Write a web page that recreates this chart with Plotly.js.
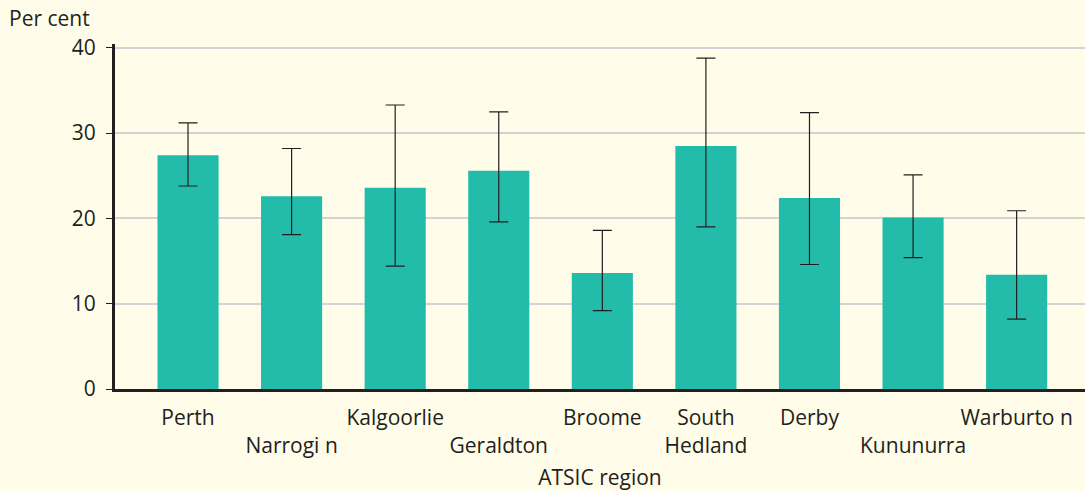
<!DOCTYPE html>
<html>
<head>
<meta charset="utf-8">
<script src="https://cdn.plot.ly/plotly-3.0.1.min.js"></script>
<style>html,body{margin:0;padding:0;background:#FFFCE9;}#chart{width:1085px;height:491px;}</style>
</head>
<body>
<div id="chart"></div>
<script>
const regions = ["Perth", "Narrogi n", "Kalgoorlie", "Geraldton", "Broome", "South Hedland", "Derby", "Kununurra", "Warburto n"];
const tickLabels = ["Perth", "<br>Narrogi n", "Kalgoorlie", "<br>Geraldton", "Broome", "South<br>Hedland", "Derby", "<br>Kununurra", "Warburto n"];
const perCent = [27.4, 22.6, 23.6, 25.6, 13.6, 28.5, 22.4, 20.1, 13.4];
const upperCI = [31.2, 28.2, 33.3, 32.5, 18.6, 38.8, 32.4, 25.1, 20.9];
const lowerCI = [23.8, 18.1, 14.4, 19.6, 9.2, 19.0, 14.6, 15.4, 8.2];

const plus = perCent.map((v, i) => upperCI[i] - v);
const minus = perCent.map((v, i) => v - lowerCI[i]);

const trace = {
  type: 'bar',
  x: regions,
  y: perCent,
  width: 0.59,
  marker: {color: '#23BBA9'},
  error_y: {type: 'data', symmetric: false, array: plus, arrayminus: minus,
            color: '#231F20', thickness: 1.2, width: 9.5},
  hoverinfo: 'x+y'
};

const layout = {
  width: 1085, height: 491,
  paper_bgcolor: '#FFFCE9', plot_bgcolor: '#FFFCE9',
  margin: {l: 115, r: 0, t: 44, b: 102},
  font: {family: '"Open Sans", "DejaVu Sans", sans-serif', size: 21, color: '#231F20'},
  showlegend: false,
  xaxis: {
    type: 'category',
    tickvals: regions, ticktext: tickLabels,
    range: [-0.705, 8.66],
    showline: true, linecolor: '#231F20', linewidth: 3,
    ticks: '', showgrid: false,
    tickangle: 0,
    ticklabelstandoff: 8,
    tickfont: {size: 21},
    title: {text: 'ATSIC region', font: {size: 21}, standoff: 13}
  },
  yaxis: {
    range: [0, 40.45],
    tickvals: [0, 10, 20, 30, 40],
    showline: true, linecolor: '#231F20', linewidth: 3,
    ticks: 'outside', ticklen: 6, tickcolor: '#231F20', tickwidth: 1,
    showgrid: true, gridcolor: '#D4D4D4', gridwidth: 2,
    zeroline: false,
    ticklabelstandoff: 6,
    tickfont: {size: 21}
  },
  annotations: [{
    text: 'Per cent', xref: 'paper', yref: 'paper', x: -0.111, y: 1.075,
    xanchor: 'left', yanchor: 'middle', showarrow: false, font: {size: 21}
  }]
};

Plotly.newPlot('chart', [trace], layout, {displayModeBar: false, staticPlot: true});
</script>
</body>
</html>
